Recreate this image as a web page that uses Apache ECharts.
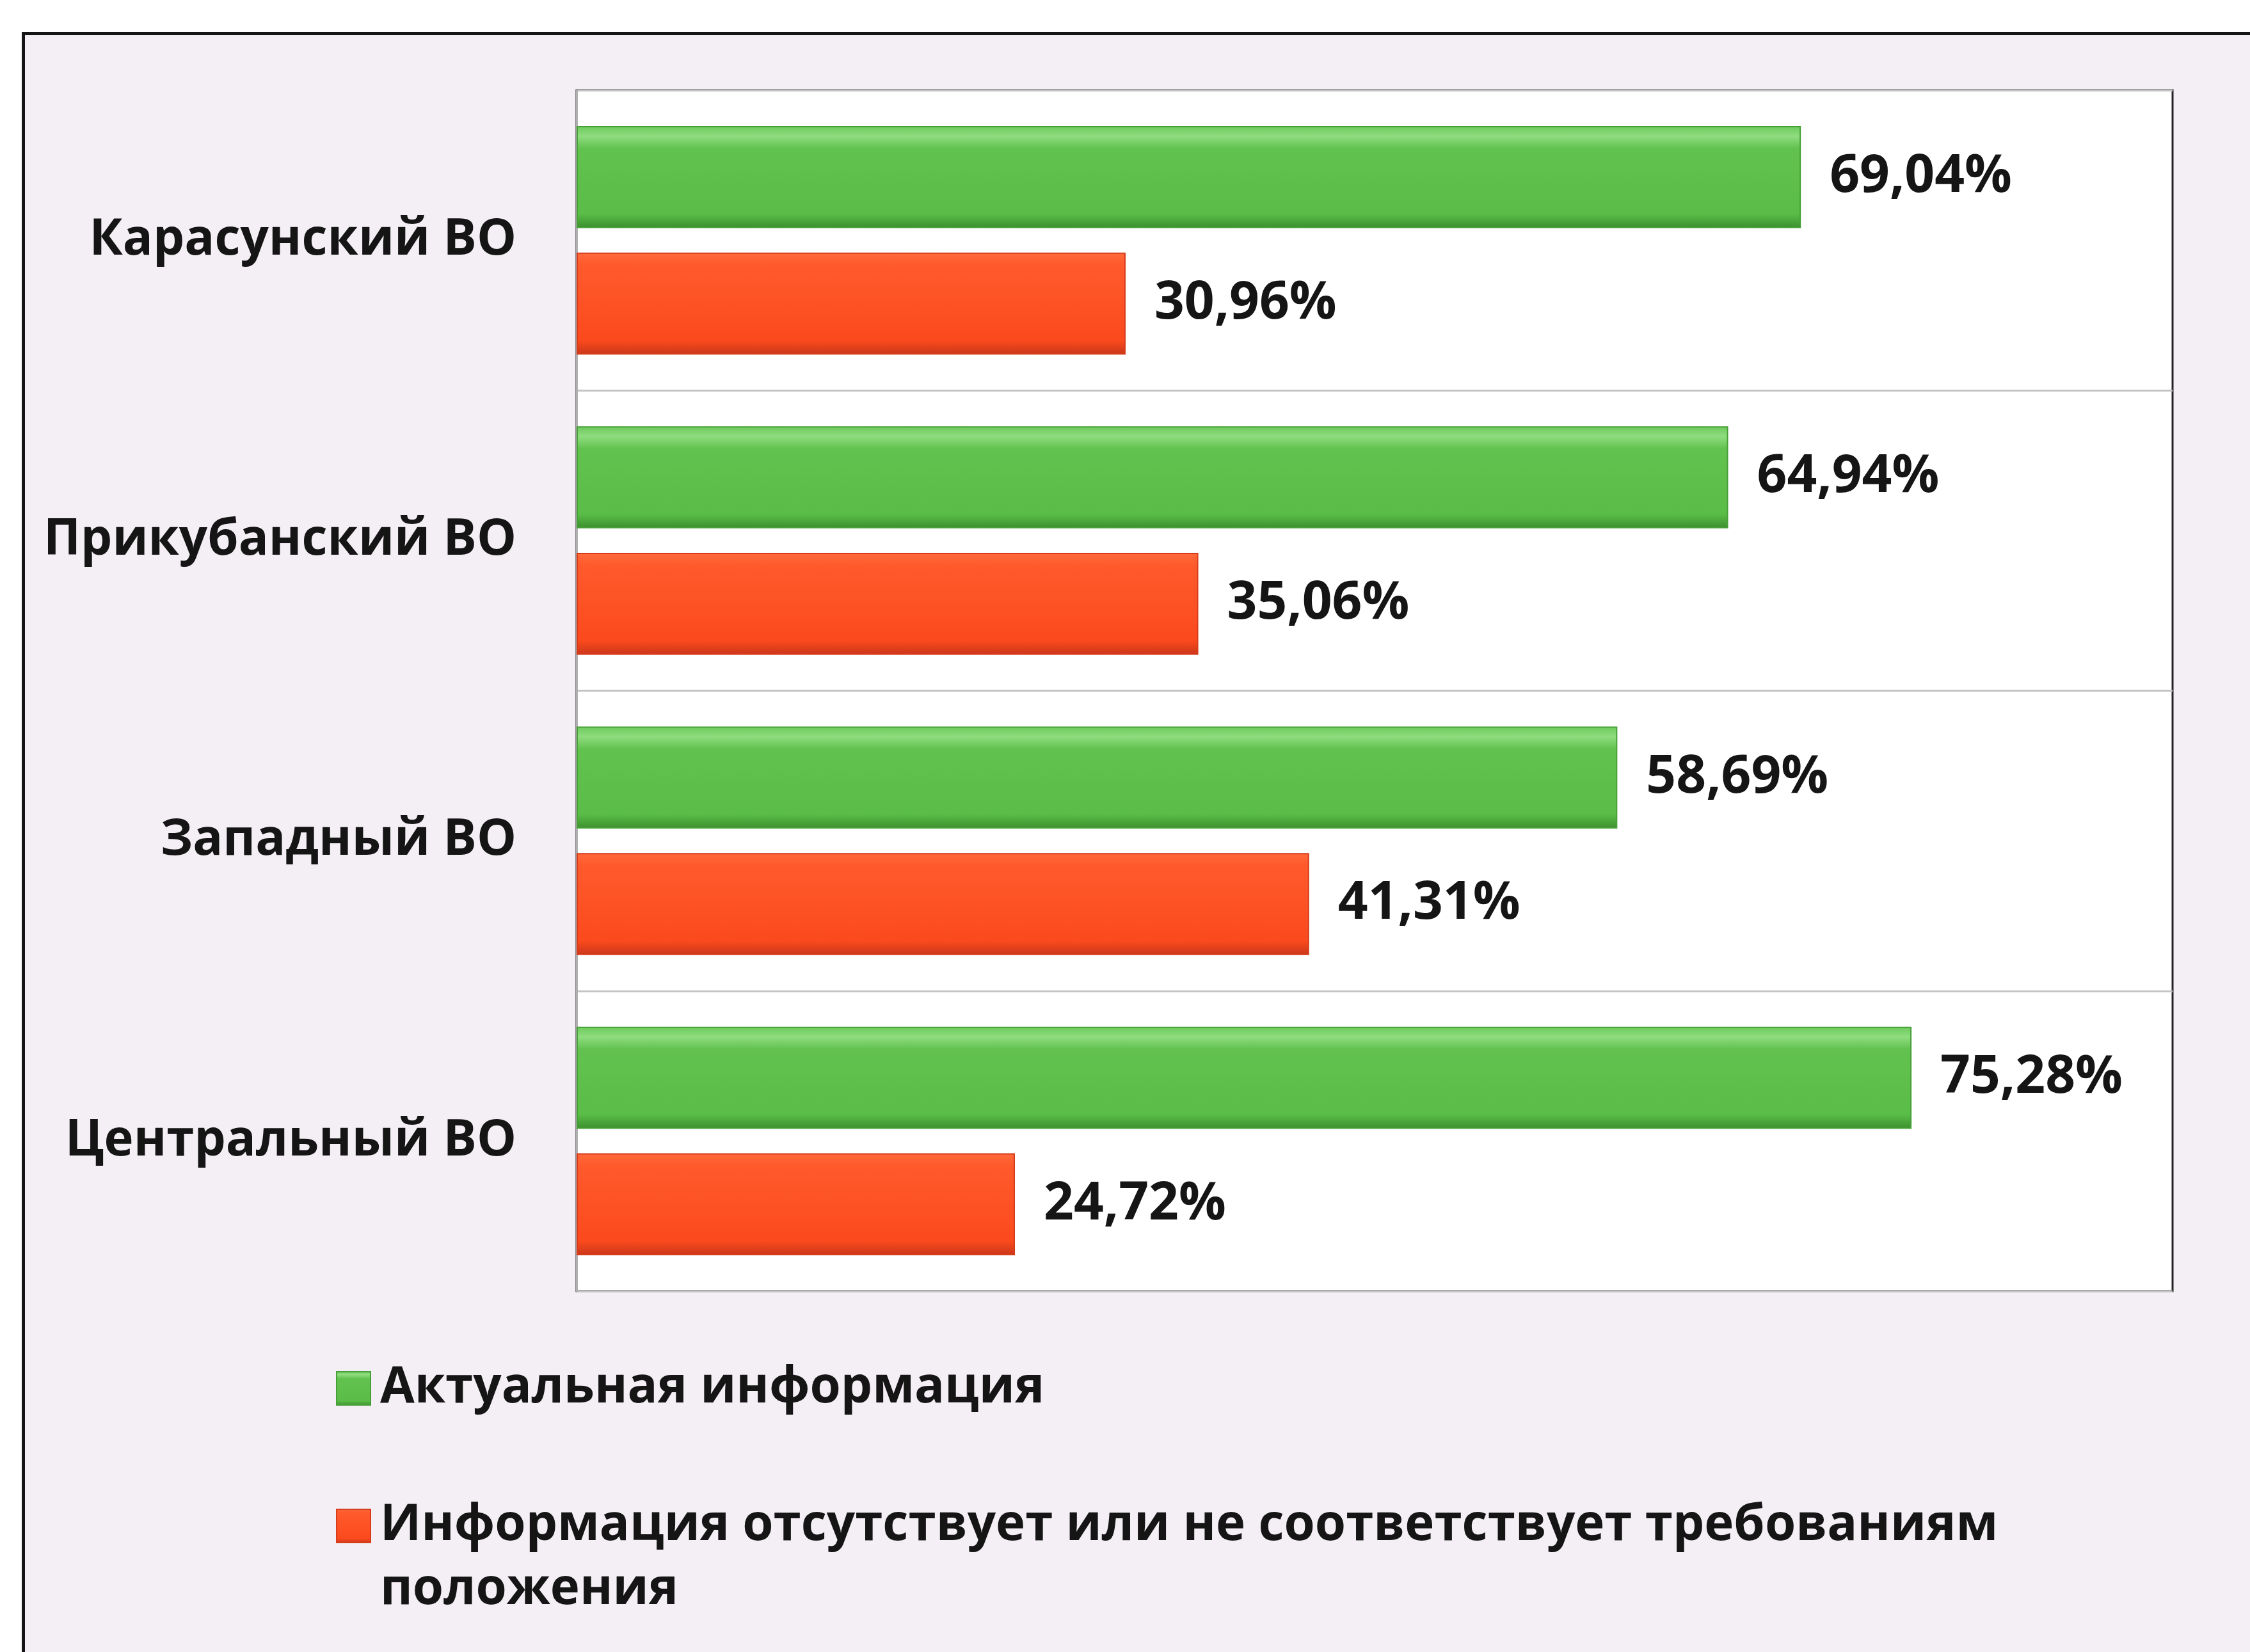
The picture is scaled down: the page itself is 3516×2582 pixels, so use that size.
<!DOCTYPE html>
<html>
<head>
<meta charset="utf-8">
<script src="https://cdn.jsdelivr.net/npm/echarts@6.0.0/dist/echarts.min.js"></script>
<style>
	html, body { margin: 0; padding: 0; background: #fff; overflow: hidden; }
	#frame {
		position: absolute; left: 34px; top: 50px; width: 3600px; height: 2700px;
		border: 5px solid #151515; background: #f4eff4;
	}
	#chart { position: absolute; left: 0; top: 0; width: 3516px; height: 2582px; }
</style>
</head>
<body>
<div id="frame"></div>
<div id="chart"></div>
<script>
var categories = ["Карасунский ВО", "Прикубанский ВО", "Западный ВО", "Центральный ВО"];
var seriesNames = ["Актуальная информация", "Информация отсутствует или не соответствует требованиям положения"];
var actual = [69.04, 64.94, 58.69, 75.28];
var missing = [30.96, 35.06, 41.31, 24.72];

var fontFamily = "'Open Sans', 'Noto Sans', sans-serif";
var textColor = "#151515";

// 立體感的漸層
var greenFill = new echarts.graphic.LinearGradient(0, 0, 0, 1, [
	{ offset: 0, color: "#6cc95a" },
	{ offset: 0.1, color: "#8fdc7f" },
	{ offset: 0.22, color: "#62c24f" },
	{ offset: 0.86, color: "#5abd47" },
	{ offset: 1, color: "#3b8f2e" }
]);
var redFill = new echarts.graphic.LinearGradient(0, 0, 0, 1, [
	{ offset: 0, color: "#ff6a3c" },
	{ offset: 0.12, color: "#ff5a2c" },
	{ offset: 0.86, color: "#fb4a1d" },
	{ offset: 1, color: "#c9361a" }
]);

function fmt(p) {
	return p.value.toFixed(2).replace(".", ",") + "%";
}

var labelStyle = {
	show: true,
	position: "right",
	distance: 45,
	formatter: fmt,
	color: textColor,
	fontFamily: fontFamily,
	fontWeight: "bold",
	fontSize: 82
};

var legendBase = {
	orient: "vertical",
	left: 520,
	icon: "rect",
	itemWidth: 53,
	itemHeight: 52,
	selectedMode: false,
	textStyle: {
		color: textColor,
		fontFamily: fontFamily,
		fontWeight: "bold",
		fontSize: 78,
		lineHeight: 100,
		padding: [0, 0, 0, 10]
	}
};

var myChart = echarts.init(document.getElementById("chart"), null, { renderer: "canvas" });
var option = {
	backgroundColor: "transparent",
	animation: false,
	grid: {
		left: 901,
		top: 141,
		right: 121,
		bottom: 564,
		show: true,
		backgroundColor: "#ffffff",
		borderColor: "#222",
		borderWidth: 3
	},
	legend: [
		Object.assign({}, legendBase, {
			top: 2115,
			data: [seriesNames[0]]
		}),
		Object.assign({}, legendBase, {
			top: 2230,
			data: [seriesNames[1]],
			// 第一行對齊圖示,第二行換行
			formatter: function (name) {
				return "\n" + name.replace(" положения", "\nположения");
			}
		})
	],
	xAxis: {
		type: "value",
		min: 0,
		max: 90,
		axisLabel: { show: false },
		axisLine: { show: false },
		axisTick: { show: false },
		splitLine: { show: false }
	},
	yAxis: {
		type: "category",
		inverse: true,
		data: categories,
		axisLine: { show: true, lineStyle: { color: "#b0b0b0", width: 3 } },
		axisTick: { show: false },
		splitLine: { show: true, lineStyle: { color: "#c4c4c4", width: 3 } },
		axisLabel: {
			margin: 94,
			color: textColor,
			fontFamily: fontFamily,
			fontWeight: "bold",
			fontSize: 78
		}
	},
	series: [
		{
			name: seriesNames[0],
			type: "bar",
			data: actual,
			barWidth: "34%",
			barGap: "24%",
			itemStyle: { color: greenFill, borderColor: "#46a037", borderWidth: 2 },
			label: labelStyle
		},
		{
			name: seriesNames[1],
			type: "bar",
			data: missing,
			barWidth: "34%",
			barGap: "24%",
			itemStyle: { color: redFill, borderColor: "#d63c1a", borderWidth: 2 },
			label: labelStyle
		}
	],
	color: ["#5abd47", "#fb4a1d"]
};
myChart.setOption(option);
window.addEventListener("resize", myChart.resize);
</script>
</body>
</html>
